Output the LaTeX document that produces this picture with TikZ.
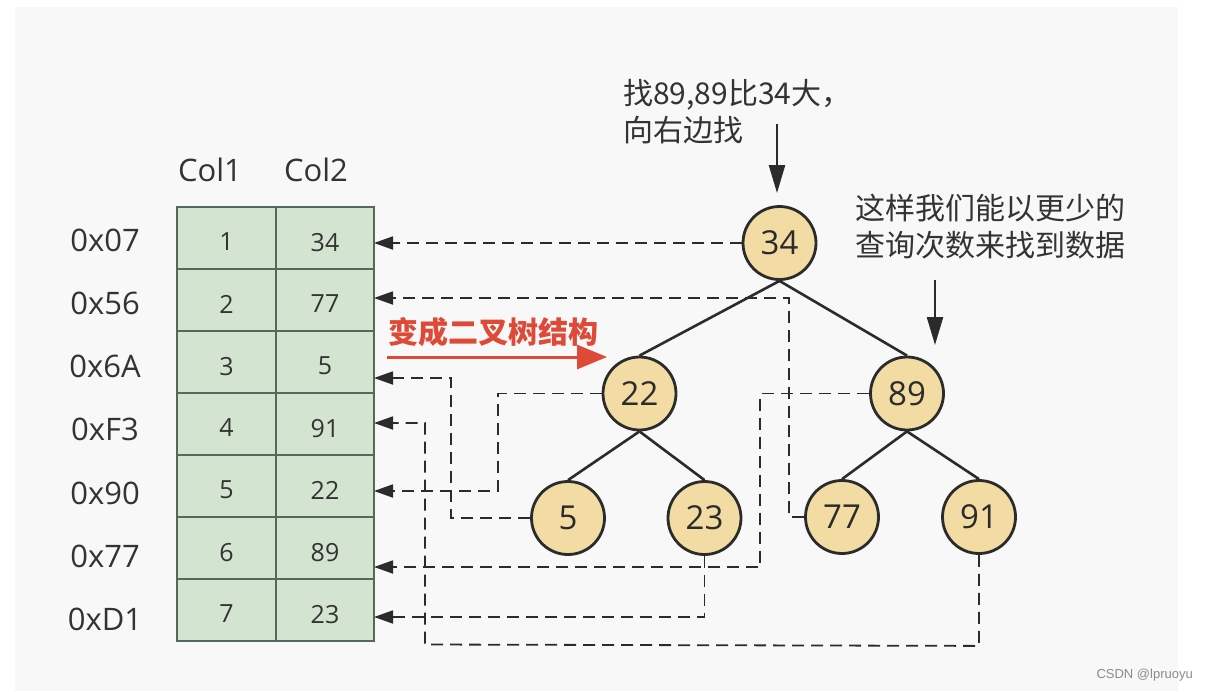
\documentclass[tikz,border=0pt]{standalone}
\usepackage{fontspec}
\setmainfont{Open Sans}
\newfontfamily\cjk{Noto Sans CJK SC}
\newfontfamily\wmfont{Liberation Sans}
\usetikzlibrary{arrows.meta,calc}
\definecolor{panel}{HTML}{F8F8F8}
\definecolor{cellfill}{HTML}{D3E5D0}
\definecolor{celldraw}{HTML}{56685A}
\definecolor{nodefill}{HTML}{F2DCA4}
\definecolor{ink}{HTML}{2B2B2B}
\definecolor{txt}{HTML}{333333}
\definecolor{redc}{HTML}{DE4A37}
\definecolor{wm}{HTML}{8A8A8A}
\newcommand{\lowr}[1]{\raisebox{-4pt}[\height][0pt]{#1}}
\begin{document}
\begin{tikzpicture}[x=1pt,y=-1pt,
  cell/.style={draw=celldraw, line width=1.5pt, fill=cellfill, minimum height=62pt,
    inner sep=0pt, outer sep=0pt, font=\fontsize{25}{25}\selectfont, text=txt},
  addr/.style={font=\fontsize{31}{31}\selectfont, text=txt, inner sep=0pt},
  circ/.style={circle, minimum size=73pt, inner sep=0pt, draw=ink, line width=2.8pt,
    fill=nodefill, font=\fontsize{33}{33}\selectfont, text=ink},
  tedge/.style={draw=ink, line width=2.6pt},
  dconn/.style={draw=ink, line width=1.8pt, dash pattern=on 12pt off 7pt,
    -{Triangle[length=19pt,width=13pt]}},
  annarrow/.style={draw=ink, line width=2.4pt, -{Triangle[length=28pt,width=16pt]}},
  anntext/.style={font=\cjk\fontsize{30}{30}\selectfont, text=txt, inner sep=0pt, anchor=west},
]
\useasboundingbox (0,0) rectangle (1209,691);
\fill[white] (0,0) rectangle (1209,691);
\fill[panel] (15,7) rectangle (1178,691);

% column headers
\node[addr] (h1) at (210,170) {Col1};
\node[addr] (h2) at (316,170) {Col2};

% table
\foreach \i/\a/\b/\ad in {1/1/34/0x07, 2/2/77/0x56, 3/3/5/0x6A, 4/4/91/0xF3, 5/5/22/0x90, 6/6/89/0x77, 7/7/23/0xD1} {
  \node[cell, minimum width=99pt] (a\i) at (226.5,176+62*\i) {\lowr{\a}};
  \node[cell, minimum width=98pt] (b\i) at (325,176+62*\i) {\lowr{\b}};
  \node[addr] (r\i) at (105,176.7+63.3*\i) {\ad};
}

% tree
\node[circ] (n34) at (779.5,243) {34};
\node[circ] (n22) at (639.5,393.5) {22};
\node[circ] (n89) at (907,393.5) {89};
\node[circ] (n5)  at (568,518) {5};
\node[circ] (n23) at (704.5,518) {23};
\node[circ] (n77) at (842,517) {77};
\node[circ] (n91) at (979,517) {91};

\draw[tedge] (n34.south) -- (n22.north);
\draw[tedge] (n34.south) -- (n89.north);
\draw[tedge] (n22.south) -- (n5.north);
\draw[tedge] (n22.south) -- (n23.north);
\draw[tedge] (n89.south) -- (n77.north);
\draw[tedge] (n89.south) -- (n91.north);

% dashed pointers
\draw[dconn] (n34.west) -- (n34.west -| b1.east);
\draw[dconn] (n77.west) -- ++(-15,0) |- ([yshift=2pt]b2.east);
\draw[dconn] (n5.west) -- ++(-79,0) |- ([yshift=-16pt]b3.east);
\draw[dconn] (n91.south) -- ++(0,91) -- (425,644.5) |- ([yshift=1pt]b4.east);
\draw[dconn] (n22.west) -- ++(-104,0) |- ([yshift=-5pt]b5.east);
\draw[dconn] (n89.west) -- ++(-109,0) |- ([yshift=-19pt]b6.east);
\draw[dconn] (n23.south) |- ([yshift=-7pt]b7.east);

% red arrow
\node[font=\cjk\bfseries\fontsize{30}{30}\selectfont, text=redc, inner sep=0pt] (conv) at (493,332) {变成二叉树结构};
\coordinate (rs) at (387,357);
\coordinate (re) at (607,357);
\draw[draw=redc, line width=3pt, -{Triangle[length=30pt,width=24pt]}] (rs) -- (re);

% annotations
\node[anntext] (t1a) at (623,95) {找89,89比34大，};
\node[anntext] (t1b) at (623,130) {向右边找};
\coordinate (ar1s) at (777,124);
\coordinate (ar1e) at (777,193);
\draw[annarrow] (ar1s) -- (ar1e);

\node[anntext] (t2a) at (855,208) {这样我们能以更少的};
\node[anntext] (t2b) at (855,245) {查询次数来找到数据};
\coordinate (ar2s) at (935,280);
\coordinate (ar2e) at (935,345);
\draw[annarrow] (ar2s) -- (ar2e);

% watermark
\node[font=\wmfont\fontsize{13}{13}\selectfont, text=wm, anchor=east, inner sep=0pt] (wmk) at (1193,675) {CSDN @lpruoyu};
\end{tikzpicture}
\end{document}
